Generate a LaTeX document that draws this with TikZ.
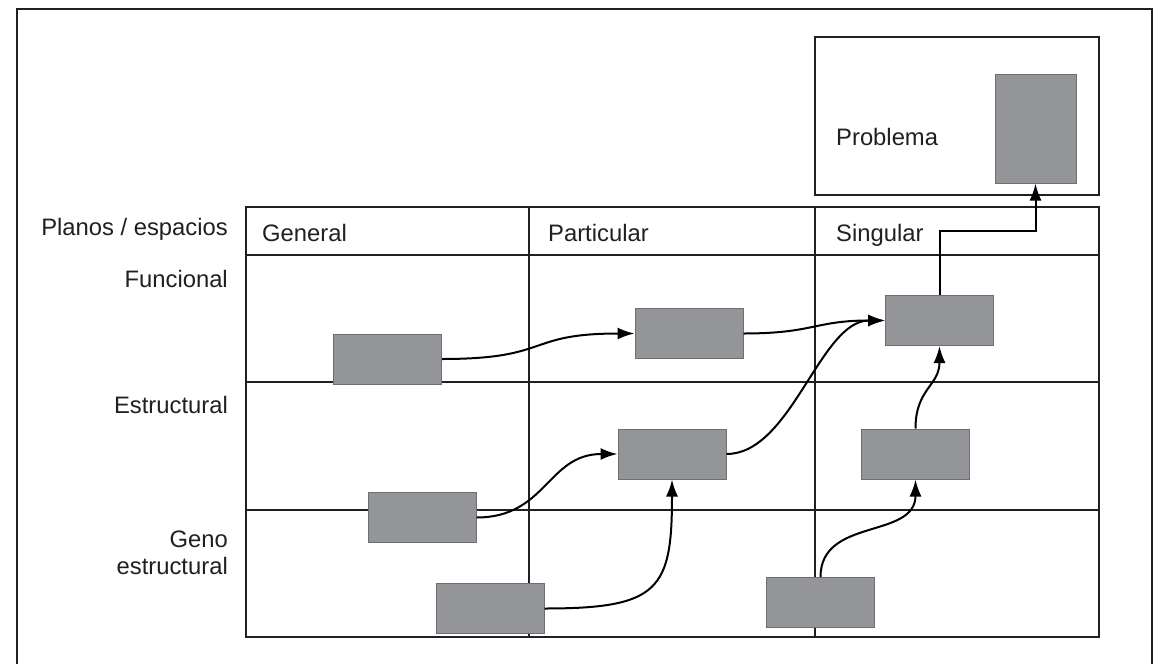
\documentclass[tikz,border=0pt]{standalone}
\usepackage{fontspec}
\setmainfont{Liberation Sans}
\usetikzlibrary{arrows.meta}
\definecolor{boxgray}{HTML}{939598}
\definecolor{boxedge}{HTML}{6D6E71}
\definecolor{linecol}{HTML}{231F20}
\tikzset{
  gbox/.style={rectangle, fill=boxgray, draw=boxedge, line width=1pt, inner sep=0pt, minimum width=108pt, minimum height=50pt},
  gridline/.style={draw=linecol, line width=1.3pt},
  conn/.style={draw=black, line width=2pt, -{Latex[length=17pt,width=12pt]}},
  lbl/.style={font=\fontsize{23.8}{27}\selectfont, inner sep=0pt, text=linecol}
}
\begin{document}
\begin{tikzpicture}[x=1pt,y=-1pt]
\useasboundingbox (0,0) rectangle (1159,664);
\fill[white] (0,0) rectangle (1159,664);
% outer frame (open at bottom)
\draw[draw=linecol, line width=1.5pt] (17,664) -- (17,9) -- (1152,9) -- (1152,664);
% problema box
\draw[gridline] (815,37) rectangle (1099,195);
% grid
\draw[gridline] (246,207) rectangle (1099,637);
\draw[gridline] (246,255) -- (1099,255);
\draw[gridline] (246,382) -- (1099,382);
\draw[gridline] (246,510) -- (1099,510);
\draw[gridline] (529,207) -- (529,637);
\draw[gridline] (815,207) -- (815,637);
% labels
\node[lbl, anchor=base east] (planos) at (228,235) {Planos / espacios};
\node[lbl, anchor=base west] (general) at (262,241) {General};
\node[lbl, anchor=base west] (particular) at (548,241) {Particular};
\node[lbl, anchor=base west] (singular) at (836,241) {Singular};
\node[lbl, anchor=base east] (funcional) at (228,287) {Funcional};
\node[lbl, anchor=base east] (estructural) at (228,413) {Estructural};
\node[lbl, anchor=base east] (geno) at (228,547) {Geno};
\node[lbl, anchor=base east] (genoest) at (228,574) {estructural};
\node[lbl, anchor=base west] (problema) at (836,145) {Problema};
% boxes
\node[gbox] (b1) at (387.5,359) {};
\node[gbox] (b2) at (422,517.5) {};
\node[gbox] (b3) at (490,608.5) {};
\node[gbox] (b4) at (689,333.5) {};
\node[gbox] (b5) at (672,454) {};
\node[gbox] (b6) at (939.5,320.5) {};
\node[gbox] (b7) at (915.5,454) {};
\node[gbox] (b8) at (820.5,602.5) {};
\node[gbox, minimum width=81pt, minimum height=109pt] (pg) at (1035.5,128.5) {};
% connectors
\draw[conn] (b1.east) .. controls +(110,0) and +(-110,0) .. (b4.west);
\draw[conn] (b4.east) .. controls +(70,0) and +(-70,0) .. (b6.west);
\draw[conn] (b2.east) .. controls +(70,0) and +(-70,0) .. (b5.west);
\draw[conn] (b5.east) .. controls +(65,0) and +(-65,0) .. (b6.west);
\draw[conn] (b3.east) .. controls +(115,0) and +(0,110) .. (b5.south);
\draw[conn] (b8.north) .. controls +(0,-60) and +(0,60) .. (b7.south);
\draw[conn] (b7.north) .. controls +(0,-40) and +(0,40) .. (b6.south);
\coordinate (turn) at (1035.5,231);
\draw[conn] (b6.north) |- (turn) -- (pg.south);
\end{tikzpicture}
\end{document}
